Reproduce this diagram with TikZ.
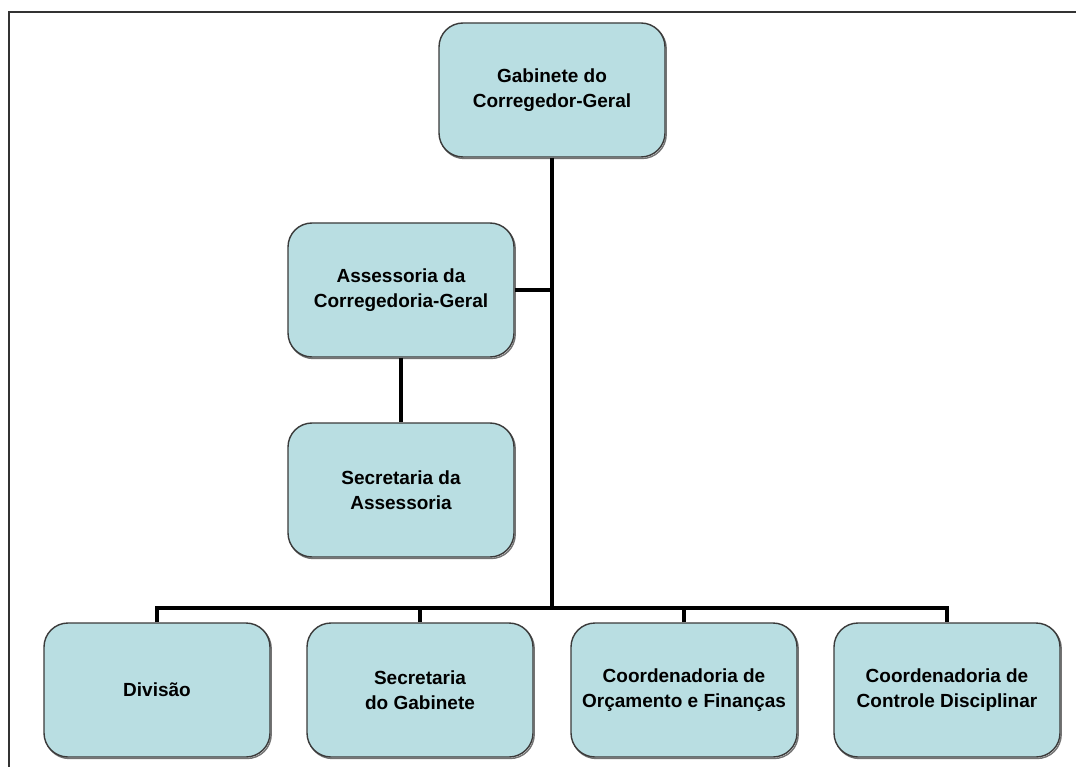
\documentclass[tikz,border=0pt]{standalone}
\usepackage{fontspec}
\setmainfont{Liberation Sans}
\definecolor{boxfill}{HTML}{B9DEE2}
\definecolor{boxline}{HTML}{3A3A3A}
\definecolor{frameline}{HTML}{333333}
\begin{document}
\begin{tikzpicture}[x=1pt,y=-1pt,
  orgbox/.style={draw=boxline, line width=1.4pt, fill=boxfill, rounded corners=24pt,
    minimum width=226pt, minimum height=134pt, align=center,
    font=\fontsize{19}{25}\selectfont\bfseries, inner sep=2pt,
    preaction={draw=black!55, line width=1.4pt, transform canvas={shift={(1.2pt,-1.5pt)}}}},
  link/.style={draw=black, line width=3.4pt}]
\useasboundingbox (0,0) rectangle (1076,767);
\draw[frameline, line width=1.4pt] (9,767) -- (9,12) -- (1076,12);
\node[orgbox] (gab) at (552,90) {Gabinete do\\Corregedor-Geral};
\node[orgbox] (ass) at (401,290) {Assessoria da\\Corregedoria-Geral};
\node[orgbox] (sec) at (401,490) {Secretaria da\\Assessoria};
\node[orgbox] (div) at (157,690) {Divisão};
\node[orgbox] (sgab) at (420,690) {Secretaria\\do Gabinete};
\node[orgbox] (orc) at (684,690) {Coordenadoria de\\Orçamento e Finanças};
\node[orgbox] (ctl) at (947,690) {Coordenadoria de\\Controle Disciplinar};
\coordinate (bus) at (552,608);
\draw[link] (gab.south) -- (bus);
\draw[link] (ass.east) -- (ass.east -| gab.south);
\draw[link] (ass.south) -- (sec.north);
\draw[link] (div.north) -- (div.north |- bus) -- (ctl.north |- bus) -- (ctl.north);
\draw[link] (sgab.north) -- (sgab.north |- bus);
\draw[link] (orc.north) -- (orc.north |- bus);
\end{tikzpicture}
\end{document}
